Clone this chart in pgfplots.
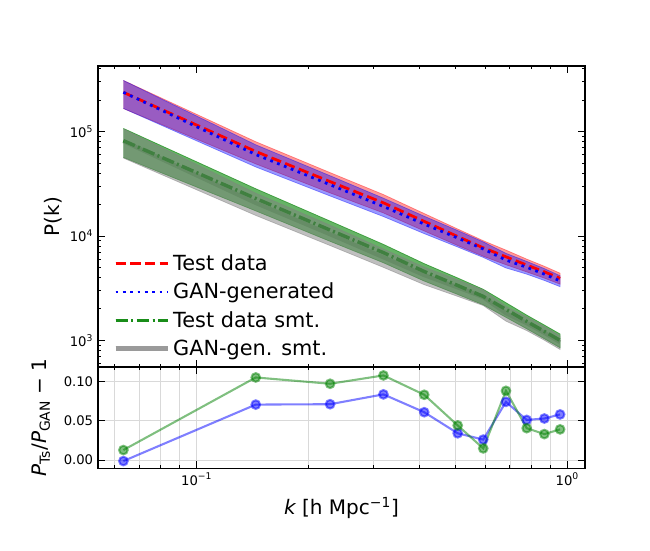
\documentclass[border=0pt]{standalone}
\usepackage{pgfplots}
\pgfplotsset{compat=1.18}
\usepackage{pgfplotstable}
\usepackage{fontspec}
\setmainfont{DejaVu Sans}

\definecolor{gcol}{RGB}{0,128,0}
\definecolor{mgray}{RGB}{128,128,128}

\pgfplotstableread{
k      T      G      S     R     b       g
0.0634 238000 238310 82000 80972 -0.0013 0.0127
0.1443 64600  60346  22900 20724 0.0705  0.105
0.229  33200  30999  11400 10392 0.071   0.097
0.319  20800  19197  6930  6257  0.0835  0.1076
0.411  13800  13009  4570  4220  0.0608  0.083
0.506  9890   9565   3360  3218  0.034   0.044
0.593  7710   7515   2640  2601  0.026   0.0148
0.683  6320   5885   1980  1820  0.074   0.088
0.777  5270   5014   1520  1461  0.051   0.0405
0.867  4540   4312   1220  1181  0.0528  0.033
0.956  3930   3715   1000  962   0.058   0.039
}\data

% band outlines: upper edge left to right, then lower edge right to left
\pgfplotstableread{
k      T      G      S      R
0.0634 309400 309803 107420 106073
0.1443 80104  74829  28396  25698
0.229  40504  37819  13908  12678
0.319  24960  23036  8316   7508
0.411  16422  15481  5438   5022
0.506  11670  11287  3965   3797
0.593  9021   8793   3089   3043
0.683  7331   6827   2297   2111
0.777  6008   5716   1748   1680
0.867  5130   4873   1403   1358
0.956  4402   4161   1150   1106
0.956  3458   3269   850    818
0.867  3950   3751   1037   1004
0.777  4532   4312   1292   1242
0.683  5309   4943   1663   1529
0.593  6399   6237   2191   2159
0.506  8110   7843   2755   2639
0.411  11178  10537  3702   3418
0.319  16640  15358  5544   5006
0.229  25896  24179  8892   8106
0.1443 49096  45863  17404  15750
0.0634 166600 166817 56580  55871
}\band

\begin{document}
\begin{tikzpicture}
\useasboundingbox (0,0) rectangle (468pt,396pt);
\begin{axis}[
  scale only axis, anchor=south west, width=350.6pt,
  at={(70.6pt,131.8pt)}, height=216.7pt,
  xmode=log, xmin=0.05416, xmax=1.116,
  xtick={0.1,1},
  minor xtick={0.06,0.07,0.08,0.09,0.2,0.3,0.4,0.5,0.6,0.7,0.8,0.9},
  tick align=inside, xtick pos=both, ytick pos=both,
  xticklabel pos=left, yticklabel pos=left,
  major tick length=4.8pt, minor tick length=2.4pt,
  axis line style={line width=0.8pt},
  every tick/.style={black, line width=0.7pt},
  tick label style={font=\fontsize{9.5}{11}\selectfont},
  label style={font=\fontsize{14.4}{17}\selectfont},
  ymode=log, ymin=556.7, ymax=4.26e5,
  xticklabels={},
  ytick={1000,10000,100000},
  yticklabels={10\textsuperscript{3},10\textsuperscript{4},10\textsuperscript{5}},
  minor ytick={600,700,800,900,2000,3000,4000,5000,6000,7000,8000,9000,20000,30000,40000,50000,60000,70000,80000,90000,200000,300000,400000},
  ylabel={P(k)},
  ylabel style={at={(axis description cs:-0.0914,0.5)}, anchor=center},
  legend style={draw=none, fill=none, inner sep=0pt,
    font=\fontsize{15}{18}\selectfont,
    at={(axis description cs:0.031,0.022)}, anchor=south west,
    row sep=3.5pt},
  legend cell align=left,
  legend image code/.code={\draw[#1] (0pt,0pt) -- (30pt,0pt); \path (0pt,0pt) -- (38pt,0pt);},
]
% bands
\addplot[mgray, line width=3pt, opacity=0.5, forget plot] table[x=k,y=R]{\data};
\addplot[fill=red, draw=red, line width=0.5pt, opacity=0.4, forget plot] table[x=k,y=T]{\band};
\addplot[fill=blue, draw=blue, line width=0.5pt, opacity=0.4, forget plot] table[x=k,y=G]{\band};
\addplot[fill=gcol, draw=gcol, line width=0.5pt, opacity=0.6, forget plot] table[x=k,y=S]{\band};
\addplot[color=gcol, line width=2.5pt, dash pattern=on 9pt off 2.4pt on 1.5pt off 2.4pt, forget plot] table[x=k,y=S]{\data};
\addplot[fill=mgray, draw=mgray, line width=0.5pt, opacity=0.5, forget plot] table[x=k,y=R]{\band};
\addplot[red, line width=2pt, dash pattern=on 7.4pt off 3.2pt, forget plot] table[x=k,y=T]{\data};
\addplot[blue, line width=2pt, dash pattern=on 2pt off 3.3pt, forget plot] table[x=k,y=G]{\data};
% legend
\addlegendimage{red, line width=2pt, dash pattern=on 7.4pt off 3.2pt}
\addlegendentry{Test data}
\addlegendimage{blue, line width=2pt, dash pattern=on 2pt off 3.3pt}
\addlegendentry{GAN-generated}
\addlegendimage{color=gcol!90, line width=2.5pt, dash pattern=on 9pt off 2.4pt on 1.5pt off 2.4pt}
\addlegendentry{Test data smt.}
\addlegendimage{mgray!80, line width=3pt}
\addlegendentry{GAN-gen. smt.}
\end{axis}

\begin{axis}[
  scale only axis, anchor=south west, width=350.6pt,
  at={(70.6pt,59.0pt)}, height=72.7pt,
  xmode=log, xmin=0.05416, xmax=1.116,
  xtick={0.1,1},
  minor xtick={0.06,0.07,0.08,0.09,0.2,0.3,0.4,0.5,0.6,0.7,0.8,0.9},
  tick align=inside, xtick pos=both, ytick pos=both,
  xticklabel pos=left, yticklabel pos=left,
  major tick length=4.8pt, minor tick length=2.4pt,
  axis line style={line width=0.8pt},
  every tick/.style={black, line width=0.7pt},
  tick label style={font=\fontsize{9.5}{11}\selectfont},
  label style={font=\fontsize{14.4}{17}\selectfont},
  ymin=-0.0102, ymax=0.1182,
  ytick={0,0.05,0.1}, yticklabels={0.00,0.05,0.10},
  xticklabels={10\textsuperscript{−1},10\textsuperscript{0}},
  xmajorgrids, xminorgrids, ymajorgrids,
  major grid style={black!15, line width=0.6pt},
  minor grid style={black!15, line width=0.6pt},
  ylabel={{\itshape P}\textsubscript{Ts}/{\itshape P}\textsubscript{GAN} − 1},
  ylabel style={at={(axis description cs:-0.117,0.5)}, anchor=center},
  xlabel={{\itshape k} [h Mpc\textsuperscript{−1}]},
  xlabel style={at={(axis description cs:0.5,-0.396)}, anchor=center},
]
\addplot[blue, opacity=0.5, line width=1.5pt, mark=*, mark size=3.1pt] table[x=k,y=b]{\data};
\addplot[gcol, opacity=0.5, line width=1.5pt, mark=*, mark size=3.1pt] table[x=k,y=g]{\data};
\end{axis}
\end{tikzpicture}
\end{document}
